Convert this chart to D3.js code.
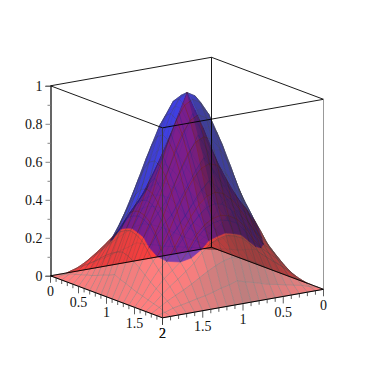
<!DOCTYPE html>
<html>
<head>
<meta charset="utf-8">
<script src="https://cdn.jsdelivr.net/npm/d3@7"></script>
<style>
    body { margin: 0; background: #fff; }
    text { font-family: "Liberation Serif", serif; font-size: 14px; fill: #111; }
</style>
</head>
<body>
<div id="chart"></div>
<script>
// heights, by distance in grid steps from the middle of the domain
// (row/column 0 is the centre, 10 is the edge; the surfaces look mirrored about the centre)
const blueHeights = [
    [1, .975, .905, .8, .67, .53, .42, .32, .19, .07, 0],
    [.975, .951, .882, .78, .653, .517, .41, .31, .18, .065, 0],
    [.905, .882, .819, .724, .606, .48, .385, .29, .165, .058, 0],
    [.8, .78, .724, .64, .536, .424, .34, .25, .14, .05, 0],
    [.67, .653, .606, .536, .449, .355, .268, .194, .114, .04, 0],
    [.53, .517, .48, .424, .355, .281, .212, .154, .09, .032, 0],
    [.42, .41, .385, .34, .268, .212, .16, .116, .068, .024, 0],
    [.32, .31, .29, .25, .194, .154, .116, .084, .049, .017, 0],
    [.19, .18, .165, .14, .114, .09, .068, .049, .029, .01, 0],
    [.07, .065, .058, .05, .04, .032, .024, .017, .01, .004, 0],
    [0, 0, 0, 0, 0, 0, 0, 0, 0, 0, 0]
];
const redHeights = [
    [1, .9, .8, .69, .58, .47, .395, .325, .22, .11, 0],
    [.9, .81, .72, .63, .54, .459, .385, .315, .21, .095, 0],
    [.8, .72, .64, .56, .48, .424, .364, .296, .192, .085, 0],
    [.69, .63, .56, .49, .42, .374, .318, .256, .17, .072, 0],
    [.58, .54, .48, .42, .36, .315, .253, .209, .144, .06, 0],
    [.47, .459, .424, .374, .315, .256, .212, .174, .118, .052, 0],
    [.395, .385, .364, .318, .253, .212, .175, .14, .094, .042, 0],
    [.325, .315, .296, .256, .209, .174, .14, .109, .073, .033, 0],
    [.22, .21, .192, .17, .144, .118, .094, .073, .051, .025, 0],
    [.11, .095, .085, .072, .06, .052, .042, .033, .025, .01, 0],
    [0, 0, 0, 0, 0, 0, 0, 0, 0, 0, 0]
];
const gridSteps = [0, .1, .2, .3, .4, .5, .6, .7, .8, .9, 1, 1.1, 1.2, 1.3, 1.4, 1.5, 1.6, 1.7, 1.8, 1.9, 2];
const floorTicks = [0, .5, 1, 1.5, 2];
const heightTicks = [0, .2, .4, .6, .8, 1];
const minorHeightTicks = [.1, .3, .5, .7, .9];

const width = 370, height = 370;

// the box is drawn with two oblique floor axes and one vertical one
const zScale = d3.scaleLinear().domain([0, 1]).range([247.3, 57.3]);
const aX = d3.scaleLinear().domain([0, 2]).range([211.5, 323.5]);
const aY = d3.scaleLinear().domain([0, 2]).range([0, 42]);
const bX = d3.scaleLinear().domain([0, 2]).range([0, -161]);
const bY = d3.scaleLinear().domain([0, 2]).range([0, 28.5]);

const project = (a, b, z) => [aX(a) + bX(b), zScale(z) + aY(a) + bY(b)];

const svg = d3.select("#chart").append("svg")
    .attr("width", width)
    .attr("height", height)
    .style("display", "block");

const floorSign = Math.sign(d3.polygonArea([
    project(0, 0, 0), project(1, 0, 0), project(1, 1, 0), project(0, 1, 0)
]));

function heightAt(table, i, j) {
    return table[Math.abs(i - 10)][Math.abs(j - 10)];
}

// left-facing slopes are lit, right-facing ones fall into shade
function shade(slope) {
    if (slope >= 0) return Math.max(.78, 1 - .2 * Math.max(0, slope - .3));
    return Math.max(.5, 1 + slope * .8);
}

function buildCells(table, other) {
    const cells = [];
    d3.range(20).forEach(i => {
        d3.range(20).forEach(j => {
            const corners = [[i, j], [i + 1, j], [i + 1, j + 1], [i, j + 1]].map(([p, q]) => {
                const z = heightAt(table, p, q);
                return { a: gridSteps[p], b: gridSteps[q], z, diff: z - heightAt(other, p, q) };
            });
            const dzA = (corners[1].z + corners[2].z - corners[0].z - corners[3].z) / 2 / .1;
            const dzB = (corners[2].z + corners[3].z - corners[0].z - corners[1].z) / 2 / .1;
            const area = d3.polygonArea(corners.map(c => project(c.a, c.b, c.z)));
            cells.push({
                corners,
                front: area * floorSign > 0,
                s: shade(dzA * .571 - dzB * .821)
            });
        });
    });
    return cells;
}

// keep the part of a cell where this surface lies above the other one
function clipAbove(corners) {
    const out = [];
    corners.forEach((p, k) => {
        const q = corners[(k + 1) % corners.length];
        if (p.diff > 0) out.push({ ...p, cut: false });
        if ((p.diff > 0) !== (q.diff > 0)) {
            const t = p.diff / (p.diff - q.diff);
            out.push({
                a: p.a + (q.a - p.a) * t,
                b: p.b + (q.b - p.b) * t,
                z: p.z + (q.z - p.z) * t,
                cut: true
            });
        }
    });
    return out;
}

const pathOf = pts => "M" + pts.map(p => project(p.a, p.b, p.z).join(",")).join("L") + "Z";

function drawLayer(parent, cells, colorOf) {
    const layer = parent.append("g").attr("opacity", .5);

    layer.selectAll("path.cell")
        .data(cells.filter(c => c.pts.length >= 3))
        .join("path")
        .attr("class", "cell")
        .attr("d", c => pathOf(c.pts))
        .attr("fill", c => colorOf(c.s))
        .attr("stroke", c => colorOf(c.s))
        .attr("stroke-width", .6);

    // mesh lines, each edge once, none along a cut
    const seen = new Set();
    let mesh = "";
    cells.forEach(c => {
        c.pts.forEach((p, k) => {
            const q = c.pts[(k + 1) % c.pts.length];
            if (c.pts.length < 3 || (p.cut && q.cut)) return;
            const p0 = project(p.a, p.b, p.z), q0 = project(q.a, q.b, q.z);
            const key = [p0.map(v => v.toFixed(1)).join(), q0.map(v => v.toFixed(1)).join()].sort().join("|");
            if (seen.has(key)) return;
            seen.add(key);
            mesh += `M${p0}L${q0}`;
        });
    });
    layer.append("path")
        .attr("d", mesh)
        .attr("fill", "none")
        .attr("stroke", "#000")
        .attr("stroke-opacity", .75)
        .attr("stroke-width", .65);
}

const redColor = s => d3.rgb(255 * s, 0, 0).formatRgb();
const blueColor = s => d3.rgb(0, 0, 255 * Math.min(.85, s * .95)).formatRgb();

const redCells = buildCells(redHeights, blueHeights);
const blueCells = buildCells(blueHeights, redHeights);
redCells.forEach(c => { c.pts = c.corners; });

// the far side of the blue hill only shows where no red lies in front of it
const mask = svg.append("mask")
    .attr("id", "outside-red")
    .attr("maskUnits", "userSpaceOnUse")
    .attr("x", 0).attr("y", 0)
    .attr("width", width).attr("height", height);
mask.append("rect").attr("width", width).attr("height", height).attr("fill", "#fff");
mask.selectAll("path")
    .data(redCells)
    .join("path")
    .attr("d", c => pathOf(c.pts))
    .attr("fill", "#000")
    .attr("stroke", "#000")
    .attr("stroke-width", .6);

const surfaces = svg.append("g");

const blueBack = blueCells.filter(c => !c.front).map(c => ({ ...c, pts: c.corners }));
drawLayer(surfaces.append("g").attr("mask", "url(#outside-red)"), blueBack, blueColor);
drawLayer(surfaces, redCells.filter(c => !c.front), redColor);
drawLayer(surfaces, redCells.filter(c => c.front), redColor);
const blueFront = blueCells.filter(c => c.front).map(c => ({ ...c, pts: clipAbove(c.corners) }));
drawLayer(surfaces, blueFront, blueColor);

// box
const boxEdges = [
    { from: [0, 2, 1], to: [0, 0, 1], color: "#000", w: .9 },
    { from: [0, 0, 1], to: [2, 0, 1], color: "#000", w: .9 },
    { from: [2, 0, 1], to: [2, 2, 1], color: "#000", w: .9 },
    { from: [2, 2, 1], to: [0, 2, 1], color: "#000", w: .9 },
    { from: [0, 0, 1], to: [0, 0, 0], color: "#000", w: .9 },
    { from: [2, 2, 1], to: [2, 2, 0], color: "#333", w: .8 },
    { from: [2, 0, 1], to: [2, 0, 0], color: "#999", w: 1 },
    { from: [0, 2, 0], to: [0, 0, 0], color: "#000", w: .9 },
    { from: [0, 0, 0], to: [2, 0, 0], color: "#000", w: .9 },
    { from: [0, 2, 0], to: [2, 2, 0], color: "#000", w: 1 },
    { from: [2, 0, 0], to: [2, 2, 0], color: "#000", w: 1 }
];
svg.append("g").selectAll("line")
    .data(boxEdges)
    .join("line")
    .attr("x1", d => project(...d.from)[0])
    .attr("y1", d => project(...d.from)[1])
    .attr("x2", d => project(...d.to)[0])
    .attr("y2", d => project(...d.to)[1])
    .attr("stroke", d => d.color)
    .attr("stroke-width", d => d.w);

// vertical axis
const leftX = project(0, 2, 0)[0];
const heightAxis = svg.append("g")
    .attr("transform", `translate(${leftX},${project(0, 2, 0)[1] - zScale(0)})`)
    .call(d3.axisLeft(zScale)
        .tickValues(heightTicks)
        .tickFormat(d3.format("~g"))
        .tickSize(5)
        .tickPadding(3));
heightAxis.select(".domain").attr("stroke", "#000").attr("stroke-width", 1.2);
heightAxis.selectAll(".tick line").attr("stroke", "#888");
heightAxis.selectAll(".tick text").attr("font-size", null).attr("font-family", null).attr("fill", null);
heightAxis.selectAll("line.minor")
    .data(minorHeightTicks)
    .join("line")
    .attr("class", "minor")
    .attr("x1", -3)
    .attr("x2", 0)
    .attr("y1", d => zScale(d) + .5)
    .attr("y2", d => zScale(d) + .5)
    .attr("stroke", "#888");

// floor axes
const axisTicks = gridSteps.map(v => ({ v, major: floorTicks.includes(v) }));
function floorAxis(at) {
    const g = svg.append("g");
    g.selectAll("line")
        .data(axisTicks)
        .join("line")
        .attr("x1", d => at(d.v)[0])
        .attr("x2", d => at(d.v)[0])
        .attr("y1", d => at(d.v)[1])
        .attr("y2", d => at(d.v)[1] + (d.major ? 7 : 4))
        .attr("stroke", "#333")
        .attr("stroke-width", .8);
    g.selectAll("text")
        .data(floorTicks)
        .join("text")
        .attr("x", d => at(d)[0])
        .attr("y", d => at(d)[1] + 20.5)
        .attr("text-anchor", "middle")
        .text(d3.format("~g"));
}
floorAxis(v => project(v, 2, 0));
floorAxis(v => project(2, v, 0));
</script>
</body>
</html>
